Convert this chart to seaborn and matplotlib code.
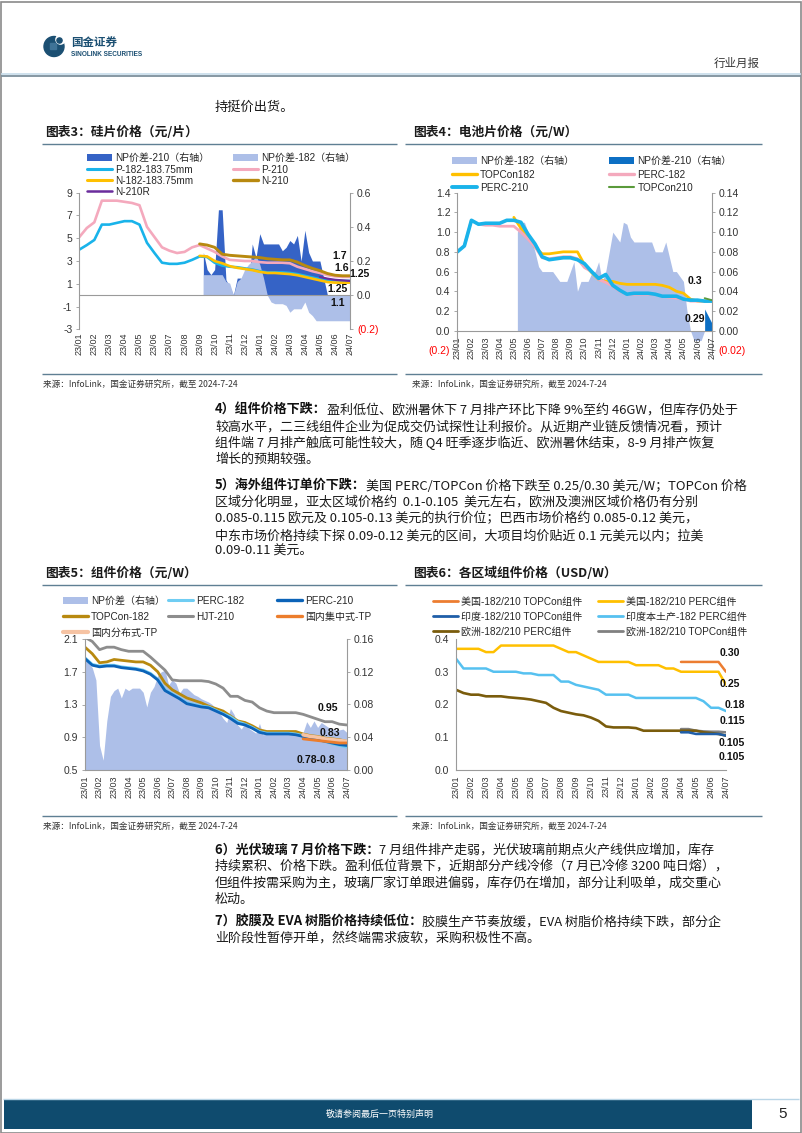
import numpy as np
import pandas as pd
import matplotlib
matplotlib.use("Agg")
import matplotlib.pyplot as plt
import seaborn as sns
from matplotlib.lines import Line2D
from matplotlib.patches import Patch, Rectangle, Circle

nan = np.nan

# ---------------- data ----------------
month_labels = ["23/01", "23/02", "23/03", "23/04", "23/05", "23/06", "23/07", "23/08",
                "23/09", "23/10", "23/11", "23/12", "24/01", "24/02", "24/03", "24/04",
                "24/05", "24/06", "24/07"]

# half-month positions (0 = 23/01 ... 18 = 24/07) for price lines
grid_half = np.arange(37) * 0.5
# quarter-month positions for spread areas
grid_q3 = np.arange(8.25, 18.001, 0.25)
grid_q4 = np.arange(4.25, 18.001, 0.25)
grid_q4b = np.array([17.5, 17.75, 18.0])
grid_q5 = np.arange(0.0, 18.001, 0.25)

# ---- chart 3: wafer prices (yuan/pc) ----
c3_p182 = [4.0, 4.4, 4.85, 6.2, 6.2, 6.35, 6.5, 6.5, 6.2, 4.6, 3.7, 2.85, 2.75, 2.75, 2.85, 3.1, 3.4, 3.35, 2.85,
           2.6, 2.5, 2.45, 2.35, 2.25, 2.1, 2.0, 2.0, 2.0, 1.95, 1.85, 1.7, 1.55, 1.4, 1.3, 1.3, 1.25, 1.25]
c3_p210 = [5.1, 5.9, 6.4, 8.3, 8.3, 8.3, 8.2, 8.1, 7.9, 6.0, 5.1, 4.2, 3.9, 3.7, 3.8, 4.2, 4.4, 4.1, 3.8,
           3.4, 3.1, 3.05, 3.0, 3.0, 2.9, 2.85, 2.85, 2.85, 2.8, 2.5, 2.3, 2.1, 1.95, 1.75, 1.65, 1.6, 1.6]
c3_n182 = [nan] * 16 + [3.45, 3.4, 3.0, 2.8, 2.55, 2.4, 2.3, 2.2, 2.05, 1.95, 1.95, 1.9, 1.85, 1.75, 1.6,
                        1.45, 1.3, 1.15, 1.1, 1.1, 1.1]
c3_n210 = [nan] * 16 + [4.5, 4.4, 4.2, 3.6, 3.5, 3.45, 3.4, 3.35, 3.3, 3.2, 3.15, 3.1, 3.1, 2.9, 2.6,
                        2.35, 2.15, 1.9, 1.75, 1.7, 1.7]
c3_n210r = [nan] * 32 + [1.6, 1.45, 1.35, 1.3, 1.25]
c3_np210 = [0.25, 0.15, 0.12, 0.15, 0.50, 0.50, 0.09, 0.05, 0.00, 0.10, 0.10, 0.00, 0.05, 0.30, 0.22, 0.36,
            0.30, 0.30, 0.30, 0.30, 0.30, 0.26, 0.28, 0.32, 0.30, 0.35, 0.20, 0.38, 0.25, 0.20, 0.20, 0.20,
            0.10, 0.00, 0.00, 0.00, 0.00, 0.00, 0.00, 0.00]
c3_np182 = [0.12, 0.12, 0.12, 0.12, 0.12, 0.12, 0.08, 0.07, 0.00, 0.08, 0.10, 0.15, 0.18, 0.20, 0.23, 0.18,
            0.10, 0.00, -0.04, -0.05, -0.05, -0.05, -0.06, -0.10, -0.08, -0.08, -0.08, -0.04, -0.10, -0.12,
            -0.15, -0.15, -0.15, -0.15, -0.15, -0.15, -0.15, -0.15, -0.15, -0.15]

# ---- chart 4: cell prices (yuan/W) ----
c4_perc210 = [0.8, 0.86, 1.12, 1.08, 1.09, 1.09, 1.09, 1.12, 1.12, 1.1, 0.98, 0.88, 0.75, 0.72, 0.73, 0.74,
              0.74, 0.72, 0.68, 0.6, 0.53, 0.57, 0.46, 0.41, 0.37, 0.38, 0.38, 0.38, 0.37, 0.35, 0.35, 0.35,
              0.32, 0.31, 0.31, 0.3, 0.3]
c4_perc182 = [0.8, 0.86, 1.12, 1.08, 1.07, 1.07, 1.06, 1.06, 1.06, 1.0, 0.93, 0.85, 0.74, 0.73, 0.74, 0.75,
              0.75, 0.73, 0.64, 0.6, 0.52, 0.49, 0.45, 0.4, 0.37, 0.37, 0.37, 0.37, 0.37, 0.35, 0.34, 0.33,
              0.32, 0.3, 0.3, 0.3, 0.3]
c4_top182 = [nan] * 8 + [1.15, 1.04, 0.97, 0.85, 0.78, 0.78, 0.79, 0.8, 0.8, 0.8, 0.67, 0.59, 0.52, 0.5,
                         0.5, 0.48, 0.47, 0.47, 0.47, 0.47, 0.47, 0.46, 0.44, 0.4, 0.38, 0.32, 0.3, 0.3, 0.3]
c4_top210 = [nan] * 35 + [0.33, 0.31]
c4_np182 = [0.100, 0.110, 0.110, 0.100, 0.092, 0.080, 0.065, 0.060, 0.060, 0.060, 0.060, 0.055, 0.050, 0.050,
            0.050, 0.060, 0.070, 0.040, 0.050, 0.050, 0.050, 0.058, 0.060, 0.070, 0.050, 0.060, 0.080, 0.100,
            0.095, 0.090, 0.110, 0.108, 0.095, 0.090, 0.090, 0.090, 0.090, 0.090, 0.090, 0.080, 0.080, 0.080,
            0.090, 0.075, 0.060, 0.060, 0.055, 0.050, 0.020, 0.000, -0.010, -0.010, -0.010, 0.000, 0.000, 0.000]
c4_np210 = [0.022, 0.015, 0.008]

# ---- chart 5: module prices (yuan/W) ----
c5_perc182 = [1.87, 1.79, 1.77, 1.78, 1.78, 1.76, 1.75, 1.74, 1.72, 1.68, 1.61, 1.48, 1.43, 1.38, 1.32, 1.30,
              1.28, 1.27, 1.23, 1.19, 1.15, 1.09, 1.06, 1.02, 0.97, 0.95, 0.95, 0.95, 0.95, 0.94, 0.92, 0.89,
              0.87, 0.85, 0.82, 0.80, 0.78]
c5_perc210 = [1.86, 1.78, 1.76, 1.77, 1.77, 1.75, 1.74, 1.73, 1.71, 1.67, 1.6, 1.47, 1.42, 1.37, 1.31, 1.29,
              1.27, 1.26, 1.22, 1.18, 1.13, 1.07, 1.05, 1.01, 0.96, 0.94, 0.94, 0.94, 0.94, 0.93, 0.91, 0.89,
              0.87, 0.85, 0.83, 0.81, 0.8]
c5_top182 = [2.0, 1.92, 1.81, 1.82, 1.85, 1.84, 1.83, 1.82, 1.82, 1.78, 1.7, 1.56, 1.48, 1.43, 1.38, 1.35,
             1.32, 1.28, 1.25, 1.22, 1.16, 1.1, 1.08, 1.04, 0.99, 0.97, 0.97, 0.97, 0.97, 0.97, 0.94, 0.92,
             0.91, 0.89, 0.88, 0.87, 0.85]
c5_hjt210 = [2.12, 2.07, 1.97, 2.0, 2.0, 1.97, 1.95, 1.95, 1.95, 1.88, 1.8, 1.72, 1.6, 1.59, 1.59, 1.59,
             1.59, 1.58, 1.55, 1.5, 1.4, 1.4, 1.35, 1.33, 1.26, 1.22, 1.2, 1.2, 1.2, 1.2, 1.18, 1.15, 1.12,
             1.09, 1.09, 1.06, 1.05]
c5_central = [nan] * 30 + [0.88, 0.87, 0.86, 0.85, 0.84, 0.83, 0.83]
c5_distrib = [nan] * 30 + [0.93, 0.91, 0.90, 0.88, 0.87, 0.86, 0.85]
c5_np = [0.135, 0.130, 0.125, 0.110, 0.030, 0.012, 0.060, 0.090, 0.097, 0.100, 0.088, 0.100, 0.097, 0.100,
         0.100, 0.100, 0.095, 0.077, 0.095, 0.102, 0.115, 0.120, 0.122, 0.104, 0.110, 0.106, 0.094, 0.100,
         0.100, 0.096, 0.092, 0.090, 0.087, 0.085, 0.083, 0.080, 0.074, 0.070, 0.063, 0.058, 0.075, 0.068,
         0.055, 0.050, 0.057, 0.051, 0.048, 0.045, 0.057, 0.043, 0.044, 0.044, 0.044, 0.044, 0.044, 0.044,
         0.044, 0.044, 0.044, 0.044, 0.046, 0.059, 0.052, 0.060, 0.052, 0.058, 0.055, 0.052, 0.050, 0.049,
         0.049, 0.050, 0.046]

# ---- chart 6: regional module prices (USD/W) ----
c6_us_top = [nan] * 30 + [0.33, 0.33, 0.33, 0.33, 0.33, 0.33, 0.30]
c6_us_perc = [0.37, 0.37, 0.37, 0.37, 0.36, 0.36, 0.38, 0.38, 0.38, 0.38, 0.38, 0.38, 0.38, 0.38, 0.37, 0.36,
              0.36, 0.35, 0.34, 0.33, 0.33, 0.33, 0.33, 0.33, 0.32, 0.32, 0.32, 0.32, 0.31, 0.31, 0.3, 0.3,
              0.3, 0.3, 0.3, 0.3, 0.26]
c6_in_top = [nan] * 30 + [0.115, 0.115, 0.11, 0.11, 0.11, 0.11, 0.105]
c6_in_perc = [0.34, 0.31, 0.31, 0.31, 0.31, 0.3, 0.3, 0.3, 0.3, 0.295, 0.295, 0.29, 0.29, 0.29, 0.27, 0.27,
              0.26, 0.255, 0.25, 0.245, 0.23, 0.23, 0.23, 0.23, 0.22, 0.22, 0.22, 0.22, 0.22, 0.22, 0.22,
              0.22, 0.22, 0.21, 0.19, 0.19, 0.18]
c6_eu_perc = [0.245, 0.235, 0.23, 0.23, 0.225, 0.225, 0.225, 0.222, 0.22, 0.218, 0.215, 0.21, 0.205, 0.19,
              0.18, 0.175, 0.17, 0.167, 0.16, 0.15, 0.133, 0.13, 0.13, 0.13, 0.128, 0.12, 0.12, 0.12, 0.12,
              0.12, 0.12, 0.12, 0.12, 0.115, 0.113, 0.11, 0.105]
c6_eu_top = [nan] * 30 + [0.125, 0.125, 0.12, 0.118, 0.117, 0.117, 0.115]

# ---------------- style ----------------
sns.set_theme(style="white")
plt.rcParams["font.family"] = ["Liberation Sans", "Noto Sans CJK SC", "DejaVu Sans"]
plt.rcParams["axes.unicode_minus"] = False
CJK = ["Noto Sans CJK SC", "DejaVu Sans"]

W, H = 802, 1133
fig = plt.figure(figsize=(W / 100, H / 100), dpi=100)
fig.patch.set_facecolor("white")


def px_axes(x0, y0, x1, y1):
    return fig.add_axes([x0 / W, 1 - y1 / H, (x1 - x0) / W, (y1 - y0) / H])


def ftext(x, y, s, **kw):
    return fig.text(x / W, 1 - y / H, s, **kw)


def fline(x0, y0, x1, y1, color, lw):
    fig.add_artist(Line2D([x0 / W, x1 / W], [1 - y0 / H, 1 - y1 / H], transform=fig.transFigure,
                          color=color, lw=lw, solid_capstyle="butt"))


def frect(x0, y0, x1, y1, color):
    fig.add_artist(Rectangle((x0 / W, 1 - y1 / H), (x1 - x0) / W, (y1 - y0) / H,
                             transform=fig.transFigure, facecolor=color, edgecolor="none"))


def draw_line(ax, values, color, lw, xs=grid_half):
    df = pd.DataFrame({"pos": xs, "val": values}).dropna()
    sns.lineplot(data=df, x="pos", y="val", ax=ax, color=color, linewidth=lw,
                 legend=False, errorbar=None)


def legend_entry(handle, label, x, y, fs=7.2):
    fig.legend([handle], [label], loc="center left", bbox_to_anchor=(x / W, 1 - y / H),
               bbox_transform=fig.transFigure, frameon=False, borderpad=0, borderaxespad=0,
               handlelength=2.5, handleheight=0.75, handletextpad=0.35, fontsize=fs,
               labelcolor="#262626")


SPINE = "#9a9a9a"
TICKC = "#333333"


def style_y(ax, ticks, labels, fs=7.5):
    ax.set_yticks(ticks)
    ax.set_yticklabels(labels, fontsize=fs, color=TICKC)
    for t in ax.get_yticklabels():
        if t.get_text().startswith("("):
            t.set_color("#ff0000")
    ax.tick_params(axis="y", direction="out", length=2.5, width=0.6, color=SPINE, pad=2.5)
    ax.set_ylabel("")


def style_x(ax):
    ax.set_xlim(0, 18)
    ax.set_xticks(range(19))
    ax.set_xticklabels(month_labels, rotation=90, fontsize=6.5, color=TICKC)
    ax.tick_params(axis="x", direction="out", length=2, width=0.6, color=SPINE, pad=2)
    ax.set_xlabel("")


def spines(ax, show):
    for k, s in ax.spines.items():
        s.set_visible(k in show)
        s.set_color(SPINE)
        s.set_linewidth(0.8)


def twin(ax):
    axr = ax.twinx()
    ax.set_zorder(axr.get_zorder() + 1)
    ax.patch.set_visible(False)
    axr.patch.set_visible(False)
    return axr


# colours
C_NPD = "#3563c6"
C_NPL = "#adbfe8"
C_CYAN = "#19b3ea"
C_PINK = "#f4a9bd"
C_YEL = "#ffc000"
C_GOLD = "#b8890f"
C_PURP = "#6a2c9c"

# ---------------- page frame / header ----------------
fig.add_artist(Rectangle((0.5 / W, 0.5 / H), (W - 2) / W, (H - 2) / H, transform=fig.transFigure,
                         facecolor="none", edgecolor="#8a8a8a", lw=1.2))
fline(1, 73.5, 801, 73.5, "#c6dcea", 1.2)
fline(1, 75.8, 801, 75.8, "#7d909c", 1.3)

logo = px_axes(42, 34, 68, 60)
logo.set_xlim(42, 68)
logo.set_ylim(60, 34)
logo.set_aspect("equal")
logo.axis("off")
logo.add_patch(Circle((54, 46.5), 10, color="#1b4f72"))
logo.add_patch(Circle((60.5, 39.5), 4.6, color="white"))
logo.add_patch(Circle((59.5, 40.5), 2.6, color="#1b4f72"))
logo.add_patch(Rectangle((50, 43), 6, 6, color="#3f7397"))

ftext(71, 42.5, "国金证券", fontsize=8.3, fontweight="bold", color="#1b4f72", family=CJK,
      ha="left", va="center")
ftext(71, 54.5, "SINOLINK SECURITIES", fontsize=4.7, fontweight="bold", color="#1b4f72",
      ha="left", va="center")
ftext(760, 63, "行业月报", fontsize=8.3, color="#333333", family=CJK, ha="right", va="center")

ftext(215, 107, "持挺价出货。", fontsize=9.5, color="#1a1a1a", family=CJK, ha="left", va="center")

# titles, rules, sources
TITLE_LINE = "#5f7f93"
for (tx, ty, txt) in [(45, 132, "图表3：硅片价格（元/片）"), (413, 132, "图表4：电池片价格（元/W）"),
                      (45, 573, "图表5：组件价格（元/W）"), (413, 573, "图表6：各区域组件价格（USD/W）")]:
    ftext(tx, ty, txt, fontsize=9.2, fontweight="bold", color="#1a1a1a", family=CJK,
          ha="left", va="center")
for y in (143.5, 584.5):
    fline(42, y, 397, y, TITLE_LINE, 1.0)
    fline(405, y, 762, y, TITLE_LINE, 1.0)
for y in (374, 816):
    fline(42, y, 397, y, TITLE_LINE, 1.0)
    fline(405, y, 762, y, TITLE_LINE, 1.0)
SRC = "来源：InfoLink，国金证券研究所，截至 2024-7-24"
for (sx, sy) in [(43, 384), (412, 384), (43, 826), (412, 826)]:
    ftext(sx, sy, SRC, fontsize=6.2, color="#333333", family=CJK, ha="left", va="center")

# ---------------- chart 3 ----------------
ax3 = px_axes(79.3, 192.7, 350, 329.3)
ax3r = twin(ax3)
ax3r.fill_between(grid_q3, 0, c3_np210, color=C_NPD, lw=0)
ax3r.fill_between(grid_q3, 0, c3_np182, color=C_NPL, lw=0)
draw_line(ax3, c3_p182, C_CYAN, 1.9)
draw_line(ax3, c3_p210, C_PINK, 1.9)
draw_line(ax3, c3_n182, C_YEL, 1.9)
draw_line(ax3, c3_n210, C_GOLD, 2.1)
draw_line(ax3, c3_n210r, C_PURP, 1.6)
ax3.axhline(0, color=SPINE, lw=0.8, zorder=1)
ax3.set_ylim(-3, 9)
ax3r.set_ylim(-0.2, 0.6)
spines(ax3, ["left"])
spines(ax3r, ["right"])
style_x(ax3)
ax3.tick_params(axis="x", length=0)
style_y(ax3, [-3, -1, 1, 3, 5, 7, 9], ["-3", "-1", "1", "3", "5", "7", "9"])
style_y(ax3r, [-0.2, 0.0, 0.2, 0.4, 0.6], ["(0.2)", "0.0", "0.2", "0.4", "0.6"])

legend_entry(Patch(facecolor=C_NPD, edgecolor="none"), "NP价差-210（右轴）", 86.7, 158)
legend_entry(Patch(facecolor=C_NPL, edgecolor="none"), "NP价差-182（右轴）", 233, 158)
legend_entry(Line2D([], [], color=C_CYAN, lw=2.2), "P-182-183.75mm", 86.7, 169.5)
legend_entry(Line2D([], [], color=C_PINK, lw=2.2), "P-210", 233, 169.5)
legend_entry(Line2D([], [], color=C_YEL, lw=2.2), "N-182-183.75mm", 86.7, 180.8)
legend_entry(Line2D([], [], color=C_GOLD, lw=2.4), "N-210", 233, 180.8)
legend_entry(Line2D([], [], color=C_PURP, lw=1.8), "N-210R", 86.7, 192)

for (lx, ly, s) in [(340, 256, "1.7"), (341.7, 267.7, "1.6"), (359, 274, "1.25"),
                    (337.7, 289, "1.25"), (337.7, 302.7, "1.1")]:
    ftext(lx, ly, s, fontsize=7.6, fontweight="bold", color="#111111", ha="center", va="center")

# ---------------- chart 4 ----------------
C4_NPD = "#0d6fc4"
C4_GREEN = "#5a9a3a"
ax4 = px_axes(457.3, 192.7, 711.7, 350.4)
ax4r = twin(ax4)
ax4r.fill_between(grid_q4, 0, c4_np182, color=C_NPL, lw=0)
ax4r.fill_between(grid_q4b, 0, c4_np210, color=C4_NPD, lw=0)
draw_line(ax4, c4_top182, C_YEL, 2.0)
draw_line(ax4, c4_perc182, C_PINK, 2.0)
draw_line(ax4, c4_perc210, C_CYAN, 2.6)
draw_line(ax4, c4_top210, C4_GREEN, 1.3)
ax4.set_ylim(-0.2, 1.4)
ax4r.set_ylim(-0.02, 0.14)
spines(ax4, ["left", "bottom"])
ax4.spines["bottom"].set_position(("data", 0))
spines(ax4r, ["right"])
style_x(ax4)
style_y(ax4, [-0.2, 0.0, 0.2, 0.4, 0.6, 0.8, 1.0, 1.2, 1.4],
        ["(0.2)", "0.0", "0.2", "0.4", "0.6", "0.8", "1.0", "1.2", "1.4"])
style_y(ax4r, [-0.02, 0.0, 0.02, 0.04, 0.06, 0.08, 0.10, 0.12, 0.14],
        ["(0.02)", "0.00", "0.02", "0.04", "0.06", "0.08", "0.10", "0.12", "0.14"])

legend_entry(Patch(facecolor=C_NPL, edgecolor="none"), "NP价差-182（右轴）", 451.7, 161)
legend_entry(Patch(facecolor=C4_NPD, edgecolor="none"), "NP价差-210（右轴）", 609, 161)
legend_entry(Line2D([], [], color=C_YEL, lw=2.4), "TOPCon182", 451.7, 174.5)
legend_entry(Line2D([], [], color=C_PINK, lw=2.4), "PERC-182", 609, 174.5)
legend_entry(Line2D([], [], color=C_CYAN, lw=2.8), "PERC-210", 451.7, 188)
legend_entry(Line2D([], [], color=C4_GREEN, lw=1.5), "TOPCon210", 609, 188)

ftext(695, 281, "0.3", fontsize=7.6, fontweight="bold", color="#111111", ha="center", va="center")
ftext(695, 319, "0.29", fontsize=7.6, fontweight="bold", color="#111111", ha="center", va="center")

# ---------------- chart 5 ----------------
C5_LCYAN = "#6fcdf3"
C5_BLUE = "#0b63b8"
C5_GRAY = "#8d8d8d"
C5_ORANGE = "#ec7d2c"
C5_SALMON = "#f6c3a3"
ax5 = px_axes(85, 639, 346.7, 770)
ax5r = twin(ax5)
ax5r.fill_between(grid_q5, 0, c5_np, color=C_NPL, lw=0)
draw_line(ax5, c5_hjt210, C5_GRAY, 2.0)
draw_line(ax5, c5_top182, C_GOLD, 2.0)
draw_line(ax5, c5_perc182, C5_LCYAN, 2.0)
draw_line(ax5, c5_perc210, C5_BLUE, 2.0)
draw_line(ax5, c5_distrib, C5_SALMON, 2.6)
draw_line(ax5, c5_central, C5_ORANGE, 2.0)
ax5.set_ylim(0.5, 2.1)
ax5r.set_ylim(0, 0.16)
spines(ax5, ["left", "bottom"])
spines(ax5r, ["right"])
style_x(ax5)
style_y(ax5, [0.5, 0.9, 1.3, 1.7, 2.1], ["0.5", "0.9", "1.3", "1.7", "2.1"])
style_y(ax5r, [0.0, 0.04, 0.08, 0.12, 0.16], ["0.00", "0.04", "0.08", "0.12", "0.16"])

legend_entry(Patch(facecolor=C_NPL, edgecolor="none"), "NP价差（右轴）", 62.7, 601)
legend_entry(Line2D([], [], color=C5_LCYAN, lw=2.2), "PERC-182", 168, 601)
legend_entry(Line2D([], [], color=C5_BLUE, lw=2.4), "PERC-210", 277, 601)
legend_entry(Line2D([], [], color=C_GOLD, lw=2.4), "TOPCon-182", 62.7, 617)
legend_entry(Line2D([], [], color=C5_GRAY, lw=2.2), "HJT-210", 168, 617)
legend_entry(Line2D([], [], color=C5_ORANGE, lw=2.4), "国内集中式-TP", 277, 617)
legend_entry(Line2D([], [], color=C5_SALMON, lw=3.0), "国内分布式-TP", 62.7, 633)

ftext(328, 708, "0.95", fontsize=7.6, fontweight="bold", color="#111111", ha="center", va="center")
ftext(330, 733, "0.83", fontsize=7.6, fontweight="bold", color="#111111", ha="center", va="center")
ftext(316, 760, "0.78-0.8", fontsize=7.6, fontweight="bold", color="#111111", ha="center", va="center")

# ---------------- chart 6 ----------------
C6_ORANGE = "#ec7d31"
C6_INBLUE = "#1f5ea8"
C6_LBLUE = "#56c1f0"
C6_OLIVE = "#7a5c0c"
C6_GRAY = "#808080"
ax6 = px_axes(456, 639, 726, 770)
draw_line(ax6, c6_us_perc, C_YEL, 1.8)
draw_line(ax6, c6_us_top, C6_ORANGE, 1.8)
draw_line(ax6, c6_in_perc, C6_LBLUE, 1.8)
draw_line(ax6, c6_eu_top, C6_GRAY, 1.8)
draw_line(ax6, c6_eu_perc, C6_OLIVE, 1.9)
draw_line(ax6, c6_in_top, C6_INBLUE, 1.8)
ax6.set_ylim(0, 0.4)
spines(ax6, ["left", "bottom"])
style_x(ax6)
style_y(ax6, [0.0, 0.1, 0.2, 0.3, 0.4], ["0.0", "0.1", "0.2", "0.3", "0.4"])

legend_entry(Line2D([], [], color=C6_ORANGE, lw=2.0), "美国-182/210 TOPCon组件", 433, 602)
legend_entry(Line2D([], [], color=C_YEL, lw=2.0), "美国-182/210 PERC组件", 597.7, 602)
legend_entry(Line2D([], [], color=C6_INBLUE, lw=2.0), "印度-182/210 TOPCon组件", 433, 617)
legend_entry(Line2D([], [], color=C6_LBLUE, lw=2.0), "印度本土产-182 PERC组件", 597.7, 617)
legend_entry(Line2D([], [], color=C6_OLIVE, lw=2.0), "欧洲-182/210 PERC组件", 433, 632)
legend_entry(Line2D([], [], color=C6_GRAY, lw=2.0), "欧洲-182/210 TOPCon组件", 597.7, 632)

for (lx, ly, s) in [(730, 653, "0.30"), (730, 684, "0.25"), (735, 705, "0.18"), (732, 721, "0.115"),
                    (732, 743, "0.105"), (732, 757, "0.105")]:
    ftext(lx, ly, s, fontsize=7.6, fontweight="bold", color="#111111", ha="center", va="center")

# ---------------- body text ----------------
renderer = fig.canvas.get_renderer()
BODY_FS = 9.4


def body_line(y, bold, rest, x=215):
    xx = x
    if bold:
        t = ftext(xx, y, bold, fontsize=BODY_FS, fontweight="bold", color="#111111", family=CJK,
                  ha="left", va="center")
        xx += t.get_window_extent(renderer).width
    if rest:
        ftext(xx, y, rest, fontsize=BODY_FS, color="#1a1a1a", family=CJK, ha="left", va="center")


paragraphs = [
    (410, [("4）组件价格下跌：", "盈利低位、欧洲暑休下 7 月排产环比下降 9%至约 46GW，但库存仍处于"),
           ("", "较高水平，二三线组件企业为促成交仍试探性让利报价。从近期产业链反馈情况看，预计"),
           ("", "组件端 7 月排产触底可能性较大，随 Q4 旺季逐步临近、欧洲暑休结束，8-9 月排产恢复"),
           ("", "增长的预期较强。")]),
    (486, [("5）海外组件订单价下跌：", "美国 PERC/TOPCon 价格下跌至 0.25/0.30 美元/W；TOPCon 价格"),
           ("", "区域分化明显，亚太区域价格约  0.1-0.105  美元左右，欧洲及澳洲区域价格仍有分别"),
           ("", "0.085-0.115 欧元及 0.105-0.13 美元的执行价位；巴西市场价格约 0.085-0.12 美元，"),
           ("", "中东市场价格持续下探 0.09-0.12 美元的区间，大项目均价贴近 0.1 元美元以内；拉美"),
           ("", "0.09-0.11 美元。")]),
    (850, [("6）光伏玻璃 7 月价格下跌：", "7 月组件排产走弱，光伏玻璃前期点火产线供应增加，库存"),
           ("", "持续累积、价格下跌。盈利低位背景下，近期部分产线冷修（7 月已冷修 3200 吨日熔），"),
           ("", "但组件按需采购为主，玻璃厂家订单跟进偏弱，库存仍在增加，部分让利吸单，成交重心"),
           ("", "松动。")]),
    (922, [("7）胶膜及 EVA 树脂价格持续低位：", "胶膜生产节奏放缓，EVA 树脂价格持续下跌，部分企"),
           ("", "业阶段性暂停开单，然终端需求疲软，采购积极性不高。")]),
]
PITCH = 16.4
for y0, lines in paragraphs:
    for i, (b, r) in enumerate(lines):
        body_line(y0 + i * PITCH, b, r)

# ---------------- footer ----------------
fline(3, 1099, 799, 1099, "#b9d5e6", 1.0)
frect(4, 1100, 752, 1129, "#0f4b6e")
ftext(380, 1114.5, "敬请参阅最后一页特别声明", fontsize=6.5, color="white", family=CJK,
      ha="center", va="center")
ftext(783, 1114.5, "5", fontsize=11, color="#222222", ha="center", va="center")

fig.savefig("out.png", dpi=100, facecolor="white")
